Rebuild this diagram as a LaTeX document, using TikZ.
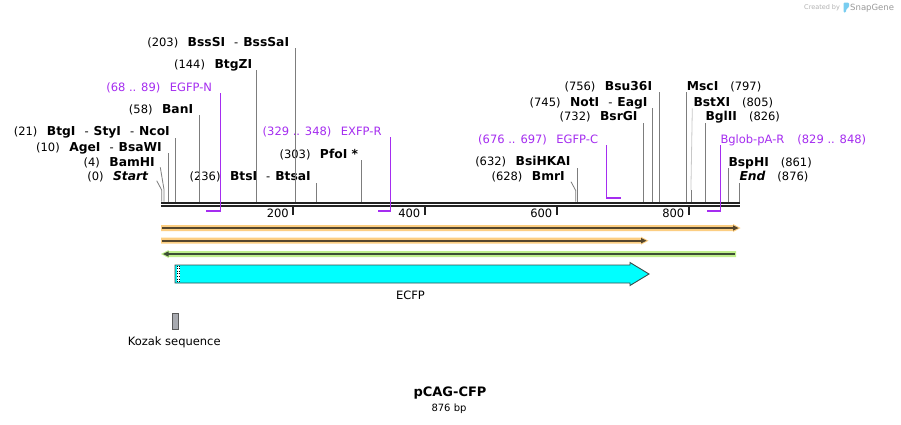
\documentclass[tikz,border=0pt]{standalone}
\usepackage{fontspec}
\setmainfont{DejaVu Sans}
\usetikzlibrary{calc}
\definecolor{purp}{RGB}{165,45,240}
\definecolor{cutg}{RGB}{125,125,125}
\definecolor{cutl}{RGB}{200,200,200}
\definecolor{seqk}{RGB}{34,34,34}
\definecolor{orband}{RGB}{252,206,130}
\definecolor{orcore}{RGB}{85,70,45}
\definecolor{grband}{RGB}{192,240,140}
\definecolor{grcore}{RGB}{60,78,52}
\definecolor{kozg}{RGB}{168,170,176}
\definecolor{logoblue}{RGB}{120,205,240}
\definecolor{cyanfill}{RGB}{0,255,255}
\definecolor{featedge}{RGB}{60,75,75}
\newcommand{\enzb}[1]{{\fontsize{12.3}{13}\selectfont\bfseries #1}}
\newcommand{\enzbi}[1]{{\fontsize{12.3}{13}\selectfont\bfseries\itshape #1}}
\begin{document}
\begin{tikzpicture}[x=1pt,y=-1pt,
  lab/.style={font=\fontsize{11.5}{13}\selectfont, inner sep=0pt},
  labL/.style={lab, anchor=base east},
  labR/.style={lab, anchor=base west},
  plabL/.style={labL, text=purp},
  plabR/.style={labR, text=purp},
  cut/.style={draw=cutg, line width=0.8pt},
  cutlight/.style={draw=cutl, line width=0.8pt},
  primerline/.style={draw=purp, line width=1.2pt},
  primerbar/.style={draw=purp, line width=2pt},
  seq/.style={draw=seqk, line width=2pt},
  tickmark/.style={draw=seqk, line width=2pt},
  ticklab/.style={lab, anchor=base east},
  orbandst/.style={fill=orband},
  grbandst/.style={fill=grband},
]
\path[use as bounding box, fill=white] (0,0) rectangle (901,424);

% ---- SnapGene logo ----
\node[anchor=base west, inner sep=0pt, font=\fontsize{6.5}{7}\selectfont, text=black!30] (cby) at (804,9.5) {Created by};
\fill[logoblue, rounded corners=1.2pt] (843.5,2.5) -- (849,2.5) -- (849,7.5) -- (846,9) -- (846,12.5) -- (843.5,12.5) -- cycle;
\node[anchor=base west, inner sep=0pt, font=\fontsize{8.5}{9}\selectfont, text=black!40] (sg) at (850,10.5) {SnapGene};

% ---- cut-site coordinates on the top of the sequence line ----
\coordinate (c0) at (161.7,201.7);
\coordinate (c4) at (164,201.7);
\coordinate (c10) at (168.3,201.7);
\coordinate (c21) at (175,201.7);
\coordinate (c58) at (199.3,201.7);
\coordinate (c144) at (256.3,201.7);
\coordinate (c203) at (295,201.7);
\coordinate (c236) at (316.7,201.7);
\coordinate (c303) at (361.3,201.7);
\coordinate (c628) at (575.7,201.7);
\coordinate (c632) at (577.3,201.7);
\coordinate (c732) at (643.7,201.7);
\coordinate (c745) at (652.7,201.7);
\coordinate (c756) at (659.7,201.7);
\coordinate (c797) at (686.7,201.7);
\coordinate (c805) at (690.9,201.7);
\coordinate (c826) at (705.7,201.7);
\coordinate (c861) at (728.3,201.7);
\coordinate (c876) at (739.3,201.7);
% bends
\coordinate (b0) at (161.7,190);
\coordinate (b4) at (164,189.5);
\coordinate (b628) at (575.7,190.5);
\coordinate (b805) at (690.9,190);
% primer ends
\coordinate (eN) at (220.3,211.6);
\coordinate (eNs) at (206,210.8);
\coordinate (eR) at (390.7,211.6);
\coordinate (eRs) at (378,210.8);
\coordinate (eC) at (606.3,198.4);
\coordinate (eCs) at (621,197.6);
\coordinate (eB) at (720.3,211.6);
\coordinate (eBs) at (707,210.8);

% ---- left-side labels ----
\node[labL] (l203) at (289.3,46.3) {(203)\hspace{9.5pt}\enzb{BssSI}\hspace{9pt}-\hspace{5pt}\enzb{BssSaI}};
\node[labL] (l144) at (252.3,68) {(144)\hspace{9.5pt}\enzb{BtgZI}};
\node[plabL] (pN) at (212.3,91.3) {(68 .. 89)\hspace{9.5pt}EGFP-N};
\node[labL] (l58) at (193.3,113.3) {(58)\hspace{9.5pt}\enzb{BanI}};
\node[labL] (l21) at (170,135.7) {(21)\hspace{9.5pt}\enzb{BtgI}\hspace{9pt}-\hspace{5pt}\enzb{StyI}\hspace{9pt}-\hspace{5pt}\enzb{NcoI}};
\node[labL] (l10) at (162,151.3) {(10)\hspace{9.5pt}\enzb{AgeI}\hspace{9pt}-\hspace{5pt}\enzb{BsaWI}};
\node[labL] (l4) at (155,166.3) {(4)\hspace{9.5pt}\enzb{BamHI}};
\node[labL] (l0) at (148.3,180.7) {(0)\hspace{9.5pt}\enzbi{Start}};
\node[labL] (l236) at (311,180.7) {(236)\hspace{9.5pt}\enzb{BtsI}\hspace{9pt}-\hspace{5pt}\enzb{BtsaI}};
\node[labL] (l303) at (358.3,158) {(303)\hspace{9.5pt}\enzb{PfoI *}};
\node[plabL] (pR) at (381.7,135) {(329 .. 348)\hspace{9.5pt}EXFP-R};
\node[labL] (l756) at (652.3,90) {(756)\hspace{9.5pt}\enzb{Bsu36I}};
\node[labL] (l745) at (647.7,106.3) {(745)\hspace{9.5pt}\enzb{NotI}\hspace{9pt}-\hspace{5pt}\enzb{EagI}};
\node[labL] (l732) at (637.7,120.7) {(732)\hspace{9.5pt}\enzb{BsrGI}};
\node[plabL] (pC) at (598.3,143.3) {(676 .. 697)\hspace{9.5pt}EGFP-C};
\node[labL] (l632) at (570.7,165.7) {(632)\hspace{9.5pt}\enzb{BsiHKAI}};
\node[labL] (l628) at (565,180.7) {(628)\hspace{9.5pt}\enzb{BmrI}};

% ---- right-side labels ----
\node[labR] (l797) at (686.7,90) {\enzb{MscI}\hspace{12pt}(797)};
\node[labR] (l805) at (693.3,106.3) {\enzb{BstXI}\hspace{12pt}(805)};
\node[labR] (l826) at (705.3,120.7) {\enzb{BglII}\hspace{12pt}(826)};
\node[plabR] (pB) at (720.3,143.3) {Bglob-pA-R\hspace{13pt}(829 .. 848)};
\node[labR] (l861) at (728.3,166) {\enzb{BspHI}\hspace{12pt}(861)};
\node[labR] (l876) at (739.3,180.7) {\enzbi{End}\hspace{12pt}(876)};

% ---- cut connectors ----
\foreach \n in {203,144,58,21,10,236,303,756,745,732,632,797,826,861,876}
  \draw[cut] (c\n) -- ($(c\n |- l\n.base)+(0,2)$);
\draw[cut] ($(l0.base east)+(8.4,0)$) -- (b0) -- (c0);
\draw[cut] ($(l4.base east)+(5.3,1)$) -- (b4) -- (c4);
\draw[cut] ($(l628.base east)+(6,1)$) -- (b628) -- (c628);
\draw[cutlight] ($(l805.base west)+(-1,2)$) -- (b805);
\draw[cut] (b805) -- (c805);

% ---- sequence double line ----
\draw[seq] (161,202.7) -- (739.8,202.7);
\draw[seq] (161,205.7) -- (739.8,205.7);

% ---- primers ----
\draw[primerline] ($(eN |- pN.base)+(0,2)$) -- (eN);
\draw[primerbar] (eNs) -- (eN |- eNs);
\draw[primerline] ($(eR |- pR.base)+(0,2)$) -- (eR);
\draw[primerbar] (eRs) -- (eR |- eRs);
\draw[primerline] ($(eC |- pC.base)+(0,2)$) -- (eC);
\draw[primerbar] (eC |- eCs) -- (eCs);
\draw[primerline] ($(eB |- pB.base)+(0,2)$) -- (eB);
\draw[primerbar] (eBs) -- (eB |- eBs);

% ---- ticks ----
\foreach \v/\x in {200/293,400/424.5,600/556.5,800/688.5}{
  \draw[tickmark] (\x,207.3) -- (\x,214.5);
  \node[ticklab] (t\v) at (\x-4,217.8) {\v};
}

% ---- tracks ----
% orange full length
\fill[orbandst] (161,225) -- (733,225) -- (733,224) -- (740.5,228) -- (733,232) -- (733,231) -- (161,231) -- cycle;
\draw[orcore, line width=2pt] (162,228) -- (734,228);
\fill[orcore] (733,225.3) -- (738.5,228) -- (733,230.7) -- cycle;
% orange to 740
\fill[orbandst] (161,237.7) -- (641,237.7) -- (641,236.7) -- (648.5,240.7) -- (641,244.7) -- (641,243.7) -- (161,243.7) -- cycle;
\draw[orcore, line width=2pt] (162,240.7) -- (642,240.7);
\fill[orcore] (641,238) -- (646.5,240.7) -- (641,243.4) -- cycle;
% green reverse
\fill[grbandst] (736,251) -- (168.5,251) -- (168.5,250) -- (161,254) -- (168.5,258) -- (168.5,257) -- (736,257) -- cycle;
\draw[grcore, line width=2pt] (734.5,254) -- (167.5,254);
\fill[grcore] (168.5,251.3) -- (163,254) -- (168.5,256.7) -- cycle;

% ---- ECFP feature ----
\draw[fill=cyanfill, draw=featedge, line width=0.9pt] (175,265) -- (630,265) -- (630,262.5) -- (649,274) -- (630,285.5) -- (630,283) -- (175,283) -- cycle;
\fill[white] (176.6,265.6) rectangle (179.6,282.4);
\draw[black, dotted, line width=0.6pt] (177,265.6) -- (177,282.4);
\draw[black, dotted, line width=0.6pt] (179.3,265.6) -- (179.3,282.4);
\node[lab, anchor=center] (ecfp) at (410.5,295.5) {ECFP};

% ---- Kozak ----
\draw[fill=kozg, draw=black!65, line width=0.8pt] (172.5,313.5) rectangle (178.5,329.3);
\node[lab, anchor=center] (koz) at (174.2,342.7) {Kozak sequence};

% ---- title ----
\node[inner sep=0pt, font=\fontsize{13}{15}\selectfont\bfseries] (title) at (450,393) {pCAG-CFP};
\node[inner sep=0pt, font=\fontsize{10}{12}\selectfont] (bp) at (449,408.3) {876 bp};
\end{tikzpicture}
\end{document}
